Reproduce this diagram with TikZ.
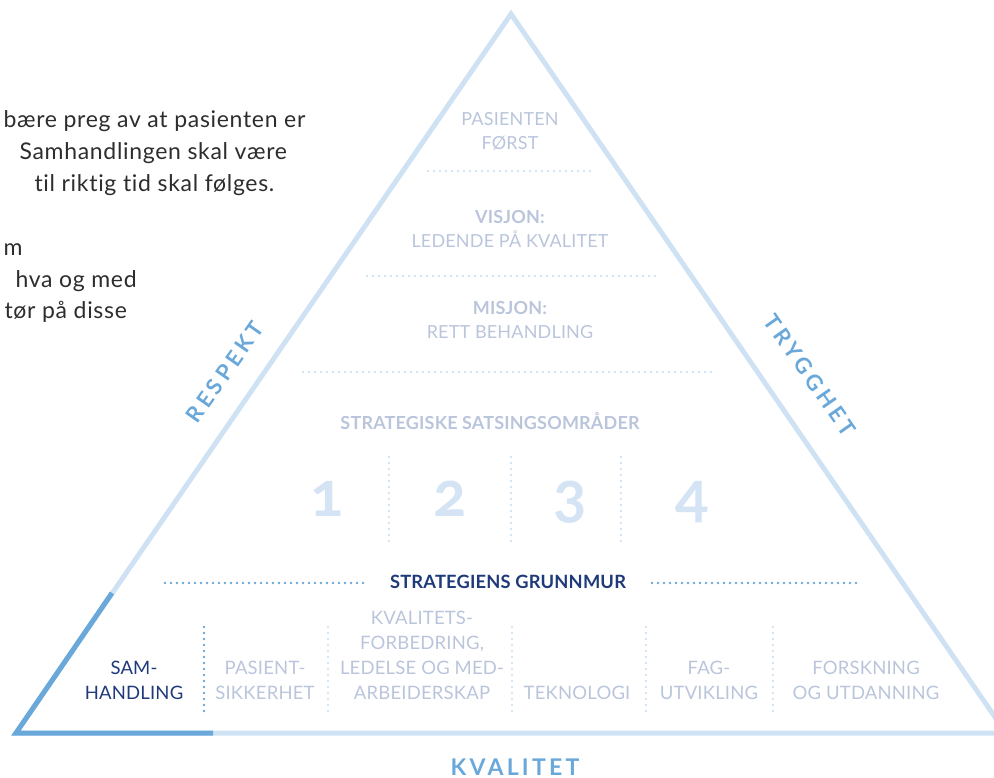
\documentclass[tikz,border=0pt]{standalone}
\usepackage{fontspec}
\setmainfont{Lato}[Ligatures=NoCommon]
\newfontfamily\numfont[Numbers=OldStyle]{Lato}
\definecolor{lightline}{RGB}{207,226,243}
\definecolor{midblue}{RGB}{106,168,218}
\definecolor{navy}{RGB}{31,58,122}
\definecolor{greytext}{RGB}{186,197,220}
\definecolor{numblue}{RGB}{212,228,244}
\definecolor{bodytext}{RGB}{45,45,45}
\begin{document}
\begin{tikzpicture}[x=1pt,y=-1pt,
    side/.style={line width=5pt, lightline},
    sidedark/.style={line width=5pt, midblue},
    dotline/.style={line width=2.6pt, lightline, line cap=round, dash pattern=on 0pt off 6pt},
    dotdark/.style={line width=2.6pt, midblue, line cap=round, dash pattern=on 0pt off 6pt},
    level/.style={greytext, align=center, font=\fontsize{18}{24}\selectfont\addfontfeature{LetterSpace=1}},
    pillar/.style={greytext, align=center, anchor=base, font=\fontsize{18.5}{25}\selectfont\addfontfeature{LetterSpace=1}},
    bigword/.style={midblue, font=\bfseries\fontsize{22}{22}\selectfont\addfontfeature{LetterSpace=18}},
    body/.style={bodytext, anchor=base west, font=\fontsize{23}{24}\selectfont\addfontfeature{LetterSpace=3}},
    num/.style={numblue, font=\numfont\bfseries\fontsize{62}{62}\selectfont}]
  \useasboundingbox (0,0) rectangle (994,777);
  \clip (0,0) rectangle (994,777);

  % text cut off on the left
  \node[body] (t1) at (0,127) {bære preg av at pasienten er};
  \node[body] (t2) at (16,159) {Samhandlingen skal være};
  \node[body] (t3) at (31,191) {til riktig tid skal følges.};
  \node[body] (t4) at (0,255) {m};
  \node[body] (t5) at (12,287) {hva og med};
  \node[body] (t6) at (1,318) {tør på disse};

  % pyramid
  \coordinate (top) at (511,14);
  \coordinate (bl) at (16,733);
  \coordinate (br) at (1006,733);
  \draw[side, line join=miter] (bl) -- (top) -- (br) -- cycle;
  \coordinate (sam1) at (112,593);
  \coordinate (sam2) at (213,733);
  \draw[sidedark, line join=miter] (sam1) -- (bl) -- (sam2);

  % levels
  \node[level] (forst) at (510,131) {PASIENTEN\\FØRST};
  \draw[dotline] (428,171) -- (590,171);
  \node[level] (visjon) at (510,229) {\textbf{VISJON:}\\LEDENDE PÅ KVALITET};
  \draw[dotline] (367,276) -- (657,276);
  \node[level] (misjon) at (510,320) {\textbf{MISJON:}\\RETT BEHANDLING};
  \draw[dotline] (303,372) -- (716,372);
  \node[level, font=\bfseries\fontsize{18}{24}\selectfont\addfontfeature{LetterSpace=1}] (satsing) at (490,421) {STRATEGISKE SATSINGSOMRÅDER};

  % areas 1-4
  \node[num, anchor=base] (n1) at (327,516) {1};
  \node[num, anchor=base] (n2) at (450,516) {2};
  \node[num, anchor=base] (n3) at (570,516) {3};
  \node[num, anchor=base] (n4) at (692,516) {4};
  \foreach \x in {389,511,621}
    \draw[dotline] (\x,457) -- (\x,543);

  % grunnmur
  \node[navy, font=\bfseries\fontsize{18.3}{24}\selectfont\addfontfeature{LetterSpace=1}] (grunnmur) at (508,582) {STRATEGIENS GRUNNMUR};
  \draw[dotdark] (165,583) -- (365,583);
  \draw[dotdark] (652,583) -- (857,583);

  \draw[dotdark] (204,627) -- (204,712);
  \foreach \x in {328,512,646,773}
    \draw[dotline] (\x,627) -- (\x,712);

  \node[pillar, navy] (samhandling) at (134,699) {SAM-\\HANDLING};
  \node[pillar] (sikkerhet) at (265,699) {PASIENT-\\SIKKERHET};
  \node[pillar] (kvalitet) at (422,699) {KVALITETS-\\FORBEDRING,\\LEDELSE OG MED-\\ARBEIDERSKAP};
  \node[pillar] (teknologi) at (577,699) {TEKNOLOGI};
  \node[pillar] (utvikling) at (709,699) {FAG-\\UTVIKLING};
  \node[pillar] (forskning) at (866,699) {FORSKNING\\OG UTDANNING};

  % values along the sides
  \node[bigword, rotate=55] (respekt) at (225,372) {RESPEKT};
  \node[bigword, rotate=-55] (trygghet) at (810,375) {TRYGGHET};
  \node[bigword, font=\bfseries\fontsize{23}{23}\selectfont\addfontfeature{LetterSpace=14}] (kval) at (515,767) {KVALITET};
\end{tikzpicture}
\end{document}
